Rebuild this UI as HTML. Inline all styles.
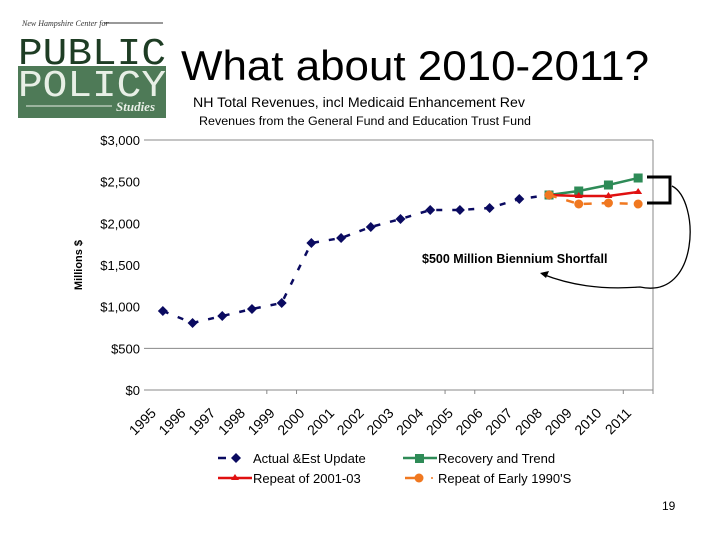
<!DOCTYPE html>
<html><head><meta charset="utf-8"><style>
body{margin:0;background:#fff;width:720px;height:540px;overflow:hidden;font-family:"Liberation Sans",sans-serif}
</style></head><body>
<svg width="720" height="540" xmlns="http://www.w3.org/2000/svg">
<g>
<text x="22" y="26" font-family="Liberation Serif" font-style="italic" font-size="8" fill="#333">New Hampshire Center for</text>
<line x1="104" y1="23" x2="163" y2="23" stroke="#333" stroke-width="1"/>
<text x="18" y="64" font-family="Liberation Mono" font-size="38" fill="#1e3d24" textLength="148" lengthAdjust="spacingAndGlyphs">PUBLIC</text>
<rect x="18" y="66" width="148" height="52" fill="#4e7a57"/>
<text x="18" y="96" font-family="Liberation Mono" font-size="38" fill="#e8efe6" textLength="148" lengthAdjust="spacingAndGlyphs">POLICY</text>
<line x1="26" y1="106" x2="112" y2="106" stroke="#e8efe6"/>
<text x="116" y="111" font-family="Liberation Serif" font-style="italic" font-weight="bold" font-size="13" fill="#e8efe6">Studies</text>
</g>
<text x="181" y="80" font-size="42" fill="#000" textLength="468" lengthAdjust="spacingAndGlyphs">What about 2010-2011?</text>
<text x="193" y="107" font-size="14" fill="#000" textLength="332" lengthAdjust="spacingAndGlyphs">NH Total Revenues, incl Medicaid Enhancement Rev</text>
<text x="199" y="125" font-size="11.5" fill="#000" textLength="332" lengthAdjust="spacingAndGlyphs">Revenues from the General Fund and Education Trust Fund</text>
<text x="82" y="265" font-size="11" font-weight="bold" transform="rotate(-90 82 265)" text-anchor="middle">Millions $</text>
<g id="grid"></g><g id="axes"></g><g id="series"></g>
<g>
<text x="422" y="263" font-size="12.5" font-weight="bold" fill="#000">$500 Million Biennium Shortfall</text>
<path d="M647 177 L670 177 L670 203 L647 203" fill="none" stroke="#000" stroke-width="3"/>
<path d="M672 186 C700 200 700 300 640 287 C600 290 570 285 542 274" fill="none" stroke="#000" stroke-width="1.3"/>
<path d="M540 273 L549 271 L546 278 Z" fill="#000"/>
</g>
<g>
<line x1="218" y1="458" x2="226" y2="458" stroke="#0a0a60" stroke-width="2.5"/>
<path d="M236 453 L241 458 L236 463 L231 458Z" fill="#0a0a60"/>
<text x="253" y="463" font-size="13">Actual &amp;Est Update</text>
<line x1="403" y1="458" x2="437" y2="458" stroke="#2e8b57" stroke-width="2.5"/>
<rect x="415" y="454" width="9" height="9" fill="#2e8b57"/>
<text x="438" y="463" font-size="13">Recovery and Trend</text>
<line x1="218" y1="478" x2="252" y2="478" stroke="#e01010" stroke-width="2.5"/>
<path d="M235 474 L239 480 L231 480Z" fill="#e01010"/>
<text x="253" y="483" font-size="13">Repeat of 2001-03</text>
<line x1="405" y1="478" x2="418" y2="478" stroke="#f07820" stroke-width="2.5"/>
<circle cx="419" cy="478" r="4.5" fill="#f07820"/>
<circle cx="432" cy="478" r="1" fill="#f07820"/>
<text x="438" y="483" font-size="13">Repeat of Early 1990'S</text>
</g>
<text x="662" y="510" font-size="12">19</text>
</svg>
<script>
const years=["1995","1996","1997","1998","1999","2000","2001","2002","2003","2004","2005","2006","2007","2008","2009","2010","2011"];
const yTicks=[0,500,1000,1500,2000,2500,3000];
const yTickLabels=["$0","$500","$1,000","$1,500","$2,000","$2,500","$3,000"];
const gridValues=[0,500,3000];
const actual=[948,804,888,972,1044,1764,1824,1956,2052,2160,2160,2184,2292,2340,null,null,null];
const recovery=[null,null,null,null,null,null,null,null,null,null,null,null,null,2340,2388,2460,2544];
const repeat0103=[null,null,null,null,null,null,null,null,null,null,null,null,null,2340,2328,2328,2376];
const early90s=[null,null,null,null,null,null,null,null,null,null,null,null,null,2340,2232,2244,2232];
const NS="http://www.w3.org/2000/svg";
const X0=148,X1=653,Y0=390,Y1=140;
const bw=(X1-X0)/years.length;
const xS=i=>X0+bw*(i+0.5);
const yS=v=>Y0-(v/3000)*(Y0-Y1);
function mk(t,a,p){const e=document.createElementNS(NS,t);for(const k in a)e.setAttribute(k,a[k]);p.appendChild(e);return e;}
const grid=document.getElementById('grid'),axes=document.getElementById('axes'),ser=document.getElementById('series');
gridValues.forEach(v=>{
 const l=mk('line',{x1:X0-4,x2:X1,y1:yS(v),y2:yS(v),stroke:'#888','stroke-width':1},grid);
 
 
});
yTicks.forEach((v,i)=>{
 const t=mk('text',{x:140,y:yS(v)+5,'text-anchor':'end','font-size':13},axes);
 t.textContent=yTickLabels[i];
 
 
});
mk('line',{x1:X1,x2:X1,y1:Y1,y2:Y0+4,stroke:'#888'},grid);
[4,5,10,11,16].forEach(i=>{
 mk('line',{x1:X0+bw*i,x2:X0+bw*i,y1:Y0,y2:Y0+4,stroke:'#888'},grid);
});
years.forEach((y,i)=>{
 const tx=xS(i)-6,ty=Y0+24;
 const t=mk('text',{x:tx,y:ty,'text-anchor':'end','font-size':14,transform:`rotate(-45 ${tx} ${ty})`},axes);
 t.textContent=y;
 
 
});
function series(arr,color,dash,marker,name){
 const g=mk('g',{},ser);
 
 
 let d='';arr.forEach((v,i)=>{if(v==null)return;d+=(d?'L':'M')+xS(i)+' '+yS(v);});
 mk('path',{d:d,fill:'none',stroke:color,'stroke-width':2.5,'stroke-dasharray':dash},g);
 arr.forEach((v,i)=>{if(v==null)return;const x=xS(i),y=yS(v);let m;
  if(marker=='d')m=mk('path',{d:`M${x} ${y-5}L${x+5} ${y}L${x} ${y+5}L${x-5} ${y}Z`,fill:color},g);
  else if(marker=='s')m=mk('rect',{x:x-4.5,y:y-4.5,width:9,height:9,fill:color},g);
  else if(marker=='t')m=mk('path',{d:`M${x} ${y-4}L${x+4} ${y+2}L${x-4} ${y+2}Z`,fill:color},g);
  else m=mk('circle',{cx:x,cy:y,r:4.5,fill:color},g);
  
  
 });
}
series(actual,'#0a0a60','6 10','d','actual-series');
series(recovery,'#2e8b57','','s','recovery-series');
series(repeat0103,'#e01010','','t','repeat-2001-series');
series(early90s,'#f07820','8 10','c','early-1990s-series');
</script>
</body></html>
